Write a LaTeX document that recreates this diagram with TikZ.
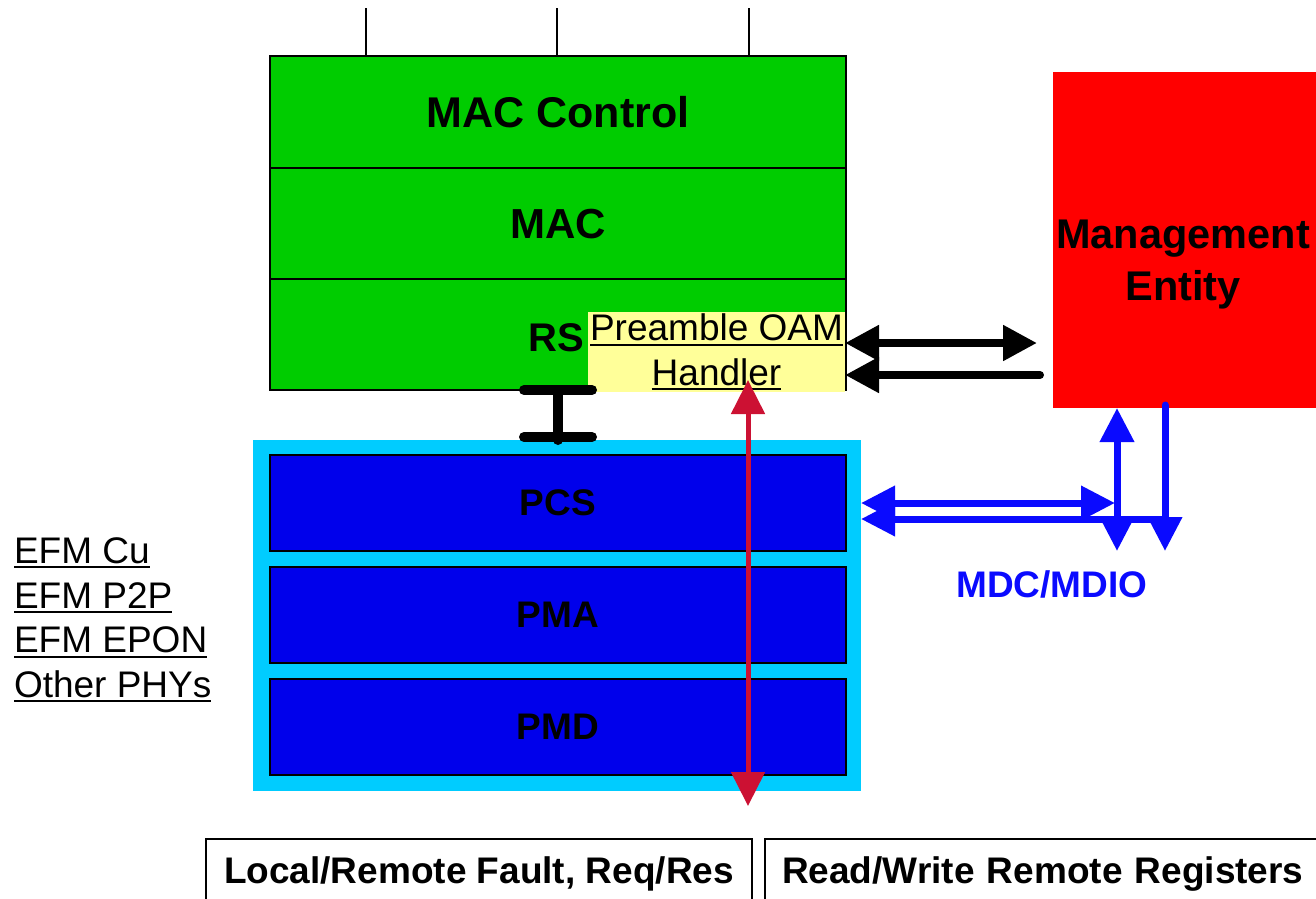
\documentclass[tikz,border=0pt]{standalone}
\usepackage{fontspec}
\setmainfont{Liberation Sans}
\usetikzlibrary{arrows.meta}

\definecolor{macgreen}{RGB}{0,204,0}
\definecolor{phycyan}{RGB}{0,204,255}
\definecolor{phyblue}{RGB}{0,0,235}
\definecolor{oamyellow}{RGB}{255,255,153}
\definecolor{faultred}{RGB}{204,17,51}
\definecolor{mdioblue}{RGB}{10,10,255}

% underline at a fixed depth below the baseline
\newcommand\undertext[1]{\setbox0\hbox{#1}\rlap{\vrule width \wd0 height -3pt depth 5pt}\box0}

\begin{document}
\begin{tikzpicture}[x=1pt,y=-1pt,
        layer/.style={draw=black,line width=1.5pt,inner sep=0pt,outer sep=0pt,minimum width=576pt},
        maclayer/.style={layer,fill=macgreen,minimum height=112pt,font=\fontsize{42}{46}\selectfont\bfseries},
        phylayer/.style={layer,fill=phyblue,minimum height=96pt,font=\fontsize{37}{40}\selectfont\bfseries},
        plaintext/.style={inner sep=0pt,outer sep=0pt,font=\fontsize{37}{44.7}\selectfont},
        boldtext/.style={inner sep=0pt,outer sep=0pt,font=\fontsize{37}{40}\selectfont\bfseries},
        fatblack/.style={line width=8pt,black,arrows={-Triangle[length=34pt,width=34pt]}},
        faultarrow/.style={line width=5pt,faultred,arrows={Triangle[length=34pt,width=33pt]-Triangle[length=34pt,width=33pt]}},
        mdio/.style={line width=7pt,mdioblue,arrows={-Triangle[length=34pt,width=33pt]}},
        ibeam/.style={line width=10pt,black,line cap=round},
        resultbox/.style={draw=black,line width=2pt,inner sep=0pt,minimum height=70pt,font=\fontsize{37}{40}\selectfont\bfseries}
    ]
        \useasboundingbox (0,0) rectangle (1316,898);

        % MAC side
        \node[maclayer,font=\fontsize{43}{46}\selectfont\bfseries] (macctl) at (558,112) {MAC Control};
        \node[maclayer] (mac) at (558,224) {MAC};
        \node[maclayer,minimum height=111pt] (rs) at (558,334.5) {};
        \node[inner sep=0pt,font=\fontsize{40}{44}\selectfont\bfseries] (rslabel) at (556,338) {RS};
        \node[plaintext,fill=oamyellow,minimum width=257pt,minimum height=80pt,align=center] (oam) at (716.5,352)
            {\undertext{Preamble OAM}\\\undertext{Handler}};
        \foreach \dx in {-192,-1,191}
            \draw[line width=1.5pt] ([xshift=\dx pt]macctl.north) -- ++(0,-48);

        % PHY side
        \node[fill=phycyan,inner sep=0pt,outer sep=0pt,minimum width=608pt,minimum height=351pt] (phy) at (557,615.5) {};
        \node[phylayer] (pcs) at (558,503) {PCS};
        \node[phylayer] (pma) at (558,615) {PMA};
        \node[phylayer] (pmd) at (558,727) {PMD};

        \draw[ibeam] ([xshift=-34pt]rs.south) -- ([xshift=34pt]rs.south);
        \draw[ibeam] (rs.south) -- (rs.south |- phy.north);
        \draw[ibeam] ([xshift=-34pt,yshift=3pt]rs.south |- phy.north) -- ([xshift=34pt,yshift=3pt]rs.south |- phy.north);

        \node[plaintext,anchor=west,align=left] (phylist) at (14,620)
            {\undertext{EFM Cu}\\\undertext{EFM P2P}\\\undertext{EFM EPON}\\\undertext{Other PHYs}};

        % management
        \node[fill=red,inner sep=0pt,outer sep=0pt,minimum width=263pt,minimum height=336pt] (me) at (1184.5,240) {};
        \node[inner sep=0pt,align=center,font=\fontsize{41.5}{52}\selectfont\bfseries] (melabel) at (1183,265) {Management\\Entity};

        \coordinate (meup) at (1037,343);
        \coordinate (melow) at (1040,375);
        \draw[fatblack,arrows={Triangle[length=34pt,width=34pt]-Triangle[length=34pt,width=34pt]}] (oam.east |- meup) -- (meup);
        \draw[fatblack,line cap=round] (melow) -- (oam.east |- melow);

        \coordinate (mdioa) at (1115,503);
        \coordinate (mdiob) at (1117,551);
        \coordinate (mdioc) at (1165,551);
        \coordinate (mdiod) at (1165,519);
        \draw[mdio,arrows={Triangle[length=34pt,width=33pt]-Triangle[length=34pt,width=33pt]}] (phy.east |- mdioa) -- (mdioa);
        \draw[mdio,arrows={Triangle[length=34pt,width=33pt]-Triangle[length=34pt,width=33pt]}] (mdiob |- me.south) -- (mdiob);
        \draw[mdio,line cap=round] ([yshift=3pt]mdioc |- me.south) -- (mdioc);
        \draw[mdio] (mdiod) -- (phy.east |- mdiod);
        \node[boldtext,text=mdioblue] (mdiolabel) at (1052,584) {MDC/MDIO};

        % fault path
        \coordinate (faulttop) at (748,380);
        \coordinate (faultend) at (748,806);
        \draw[faultarrow] (faulttop) -- (faultend);

        \node[resultbox,minimum width=546pt] (faultbox) at (479,874) {Local/Remote Fault, Req/Res};
        \node[resultbox,minimum width=560pt,text width=560pt,align=left] (regbox) at (1045,874) {\hspace{17pt}Read/Write Remote Registers};
    \end{tikzpicture}
\end{document}
